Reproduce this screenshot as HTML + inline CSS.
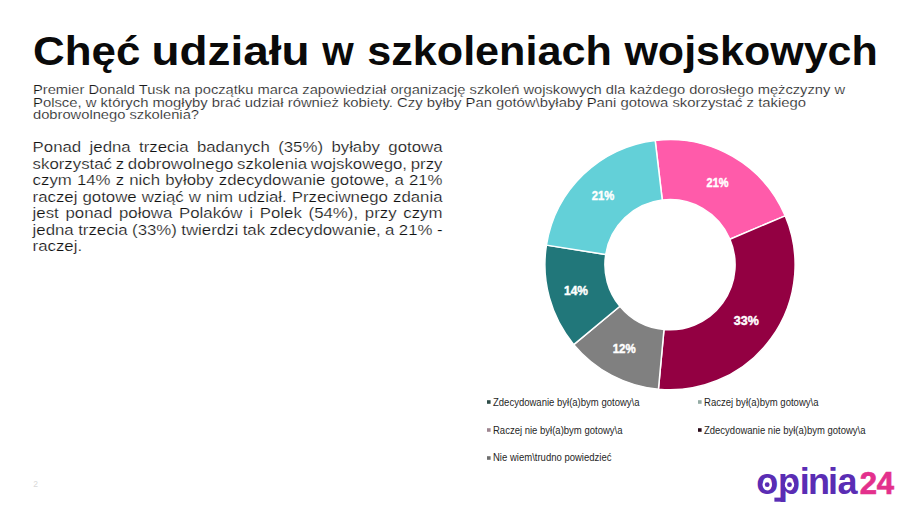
<!DOCTYPE html>
<html lang="pl">
<head>
<meta charset="utf-8">
<title>Chęć udziału w szkoleniach wojskowych</title>
<style>
html,body{margin:0;padding:0;background:#fff;}
body{width:915px;height:514px;position:relative;overflow:hidden;font-family:"Liberation Sans",Arial,sans-serif;color:#111;}
svg{position:absolute;left:0;top:0;}
.abs{position:absolute;white-space:nowrap;transform-origin:0 0;}
.bw{position:absolute;left:0;top:0;transform-origin:0 0;transform:translateX(32.6px) scaleX(1.12);}
.body{position:absolute;left:0;width:366px;word-spacing:-3px;font-size:15px;line-height:17px;color:#111;-webkit-text-stroke:0.22px #fff;text-align:justify;text-align-last:justify;white-space:nowrap;}
.body.last{text-align-last:left;}
</style>
</head>
<body>

<div class="bw">
<div class="body" style="top:138.4px">Ponad jedna trzecia badanych (35%) byłaby gotowa</div>
<div class="body" style="top:154.9px">skorzystać z dobrowolnego szkolenia wojskowego, przy</div>
<div class="body" style="top:171.4px">czym 14% z nich byłoby zdecydowanie gotowe, a 21%</div>
<div class="body" style="top:187.9px">raczej gotowe wziąć w nim udział. Przeciwnego zdania</div>
<div class="body" style="top:204.4px">jest ponad połowa Polaków i Polek (54%), przy czym</div>
<div class="body" style="top:220.9px">jedna trzecia (33%) twierdzi tak zdecydowanie, a 21% -</div>
<div class="body last" style="top:237.4px">raczej.</div>
</div>

<svg width="915" height="514" viewBox="0 0 915 514">
<g font-family="Liberation Sans, Arial, sans-serif" font-weight="700" font-size="41" fill="#0a0a0a">
<text x="33.10" y="65.2" textLength="107.28" lengthAdjust="spacingAndGlyphs">Chęć</text>
<text x="151.56" y="65.2" textLength="157.86" lengthAdjust="spacingAndGlyphs">udziału</text>
<text x="322.32" y="65.2" textLength="31.50" lengthAdjust="spacingAndGlyphs">w</text>
<text x="367.18" y="65.2" textLength="244.69" lengthAdjust="spacingAndGlyphs">szkoleniach</text>
<text x="624.43" y="65.2" textLength="253.34" lengthAdjust="spacingAndGlyphs">wojskowych</text>
</g>

<g font-family="Liberation Sans, Arial, sans-serif" font-size="12.8" fill="#1a1a1a" stroke="#fff" stroke-width="0.18" lengthAdjust="spacingAndGlyphs">
<text x="33" y="93.5" textLength="812" lengthAdjust="spacingAndGlyphs">Premier Donald Tusk na początku marca zapowiedział organizację szkoleń wojskowych dla każdego dorosłego mężczyzny w</text>
<text x="33" y="106.5" textLength="773" lengthAdjust="spacingAndGlyphs">Polsce, w których mogłyby brać udział również kobiety. Czy byłby Pan gotów\byłaby Pani gotowa skorzystać z takiego</text>
<text x="33" y="118.8" textLength="166" lengthAdjust="spacingAndGlyphs">dobrowolnego szkolenia?</text>
</g>

<g stroke="#fff" stroke-width="1.5" stroke-linejoin="round">
<path d="M655.19 140.48A125.1 125.1 0 0 1 785.16 215.82L729.92 239.26A65.1 65.1 0 0 0 662.29 200.06Z" fill="#FF5BAA"/>
<path d="M785.16 215.82A125.1 125.1 0 0 1 658.44 389.27L663.99 329.52A65.1 65.1 0 0 0 729.92 239.26Z" fill="#930042"/>
<path d="M658.44 389.27A125.1 125.1 0 0 1 573.75 344.61L619.91 306.28A65.1 65.1 0 0 0 663.99 329.52Z" fill="#808080"/>
<path d="M573.75 344.61A125.1 125.1 0 0 1 546.44 245.13L605.70 254.52A65.1 65.1 0 0 0 619.91 306.28Z" fill="#21777A"/>
<path d="M546.44 245.13A125.1 125.1 0 0 1 655.19 140.48L662.29 200.06A65.1 65.1 0 0 0 605.70 254.52Z" fill="#63D0D8"/>
</g>
<g font-family="Liberation Sans, Arial, sans-serif" font-weight="700" font-size="13" fill="#fff" stroke="#fff" stroke-width="0.45">
<text x="706.6" y="186.8" textLength="22" lengthAdjust="spacingAndGlyphs">21%</text>
<text x="733.8" y="325.3" textLength="25" lengthAdjust="spacingAndGlyphs">33%</text>
<text x="612.7" y="353.3" textLength="23" lengthAdjust="spacingAndGlyphs">12%</text>
<text x="564" y="294.8" textLength="24" lengthAdjust="spacingAndGlyphs">14%</text>
<text x="591.8" y="199.8" textLength="22.5" lengthAdjust="spacingAndGlyphs">21%</text>
</g>

<g font-family="Liberation Sans, Arial, sans-serif" font-size="10.5" fill="#262626">
<rect x="487" y="400.2" width="3.6" height="3.6" fill="#2E4D48"/>
<text x="493" y="405.5" textLength="146.5" lengthAdjust="spacingAndGlyphs">Zdecydowanie był(a)bym gotowy\a</text>
<rect x="698" y="400.2" width="3.6" height="3.6" fill="#93ABA4"/>
<text x="704" y="405.5" textLength="114.5" lengthAdjust="spacingAndGlyphs">Raczej był(a)bym gotowy\a</text>
<rect x="487" y="428.2" width="3.6" height="3.6" fill="#9E8590"/>
<text x="493" y="433.5" textLength="129.5" lengthAdjust="spacingAndGlyphs">Raczej nie był(a)bym gotowy\a</text>
<rect x="698" y="428.2" width="3.6" height="3.6" fill="#2A0A18"/>
<text x="704" y="433.5" textLength="161.5" lengthAdjust="spacingAndGlyphs">Zdecydowanie nie był(a)bym gotowy\a</text>
<rect x="487" y="456.2" width="3.6" height="3.6" fill="#6E6E6E"/>
<text x="493" y="460.5" textLength="118.5" lengthAdjust="spacingAndGlyphs">Nie wiem\trudno powiedzieć</text>
</g>

<text x="33.2" y="487.4" font-family="Liberation Sans, Arial, sans-serif" font-size="8.5" fill="#d9d9d9">2</text>

<g font-family="Liberation Sans, Arial, sans-serif" font-weight="700">
<text x="756.20 777.91 799.82 807.98 828.12 837.60" y="494" font-size="36" fill="#5A2DB4">opinia</text>
<text x="859.86 876.83" y="494" font-size="31" fill="#E3308C" stroke="#E3308C" stroke-width="0.7">24</text>
</g>
<circle cx="767.2" cy="484.7" r="4.7" fill="#fff"/>
<circle cx="789.5" cy="484.7" r="4.7" fill="#fff"/>
<circle cx="767.2" cy="484.7" r="2.4" fill="#5A2DB4"/>
<circle cx="789.5" cy="484.7" r="2.4" fill="#5A2DB4"/>
<rect x="774.4" y="497.6" width="8" height="4.1" fill="#5A2DB4"/>
</svg>
</body>
</html>
